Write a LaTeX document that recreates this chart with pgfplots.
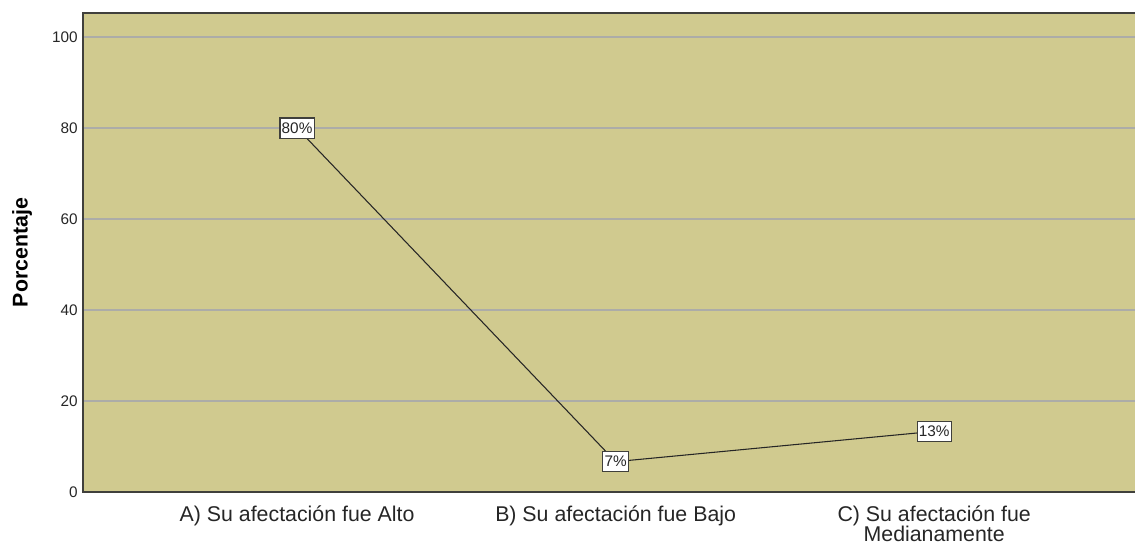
\documentclass[border=0pt]{standalone}
\usepackage{pgfplots}
\pgfplotsset{compat=1.18}
\usepackage{fontspec}
\setmainfont{Liberation Sans}
\definecolor{bgkhaki}{RGB}{208,202,143}
\definecolor{gridgray}{RGB}{172,172,168}
\definecolor{axisdark}{RGB}{64,64,60}
\begin{document}
\begin{tikzpicture}
\useasboundingbox (-62.25pt,-39.75pt) rectangle (789pt,369pt);
\begin{axis}[
    at={(0,0)}, anchor=south west,
    scale only axis,
    width=792pt, height=359.25pt,
    xmin=-0.672, xmax=2.643,
    ymin=0, ymax=105.3,
    ytick={0,20,...,100},
    xtick={0,1,2},
    xticklabels={A) Su afectación fue Alto, B) Su afectación fue Bajo, {C) Su afectación fue\\Medianamente}},
    major tick length=0pt,
    ymajorgrids,
    grid style={gridgray, line width=0.9pt},
    axis background/.style={fill=bgkhaki},
    axis line style={axisdark, line width=1.5pt},
    yticklabel style={font=\fontsize{11.5}{12}\selectfont, /pgf/number format/assume math mode=true, xshift=-0.5pt, text=black!85},
    xticklabel style={font=\fontsize{16}{15.5}\selectfont, align=center, anchor=north, yshift=-6.5pt, text=black!85},
    ylabel={\textbf{Porcentaje}},
    ylabel style={font=\fontsize{16}{18}\selectfont, at={(axis description cs:-0.0437,0.5)}, anchor=south, rotate=0},
    nodes near coords,
    point meta=explicit symbolic,
    every node near coord/.append style={font=\fontsize{11.5}{12}\selectfont, anchor=center, fill=white, draw=axisdark, line width=0.8pt, inner xsep=1.3pt, inner ysep=3.5pt},
]
\addplot[black!85, line width=0.8pt, mark=none] coordinates {
    (0,80) [80\%]
    (1,6.67) [7\%]
    (2,13.33) [13\%]
};
\end{axis}
\end{tikzpicture}
\end{document}
